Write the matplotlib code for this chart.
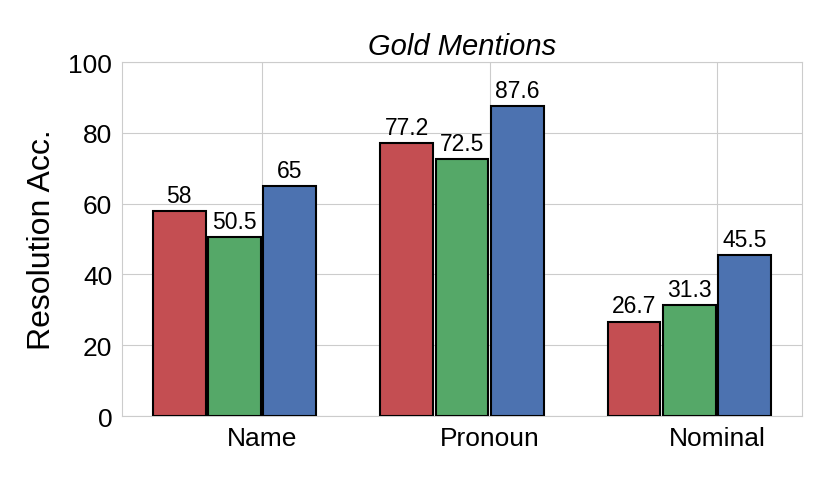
import matplotlib
matplotlib.use("Agg")
import matplotlib.pyplot as plt
import numpy as np
import seaborn as sns

categories = ["Name", "Pronoun", "Nominal"]
series_a = [58, 77.2, 26.7]
series_b = [50.5, 72.5, 31.3]
series_c = [65, 87.6, 45.5]
colors = ["#C44E52", "#55A868", "#4C72B0"]

sns.set_style("whitegrid")
plt.rcParams["font.family"] = ["Liberation Sans", "DejaVu Sans"]
plt.rcParams["text.color"] = "black"
plt.rcParams["xtick.color"] = "black"
plt.rcParams["ytick.color"] = "black"
plt.rcParams["axes.labelcolor"] = "black"

fig, ax = plt.subplots(figsize=(8.3, 4.85), dpi=100)
x = np.arange(len(categories))
step = 0.243
w = 0.232
for i, (vals, c) in enumerate(zip([series_a, series_b, series_c], colors)):
    pos = x + (i - 1.5) * step
    bars = ax.bar(pos, vals, width=w, color=c, edgecolor="black", linewidth=1.5, zorder=3)
    for b, v in zip(bars, vals):
        ax.text(b.get_x() + b.get_width() / 2, v + 1.2, f"{v:g}", ha="center", va="bottom", fontsize=16.5)

ax.set_xticks(x)
ax.set_xticklabels(categories, fontsize=19)
ax.set_ylim(0, 100)
ax.set_yticks(range(0, 101, 20))
ax.tick_params(axis="y", labelsize=19)
ax.set_ylabel("Resolution Acc.", fontsize=23, labelpad=8.5)
ax.set_title("Gold Mentions", fontsize=21, style="italic")
for s in ax.spines.values():
    s.set_color("#cccccc")

plt.subplots_adjust(left=0.147, right=0.966, top=0.87, bottom=0.14)
plt.savefig("out.png", dpi=100)
